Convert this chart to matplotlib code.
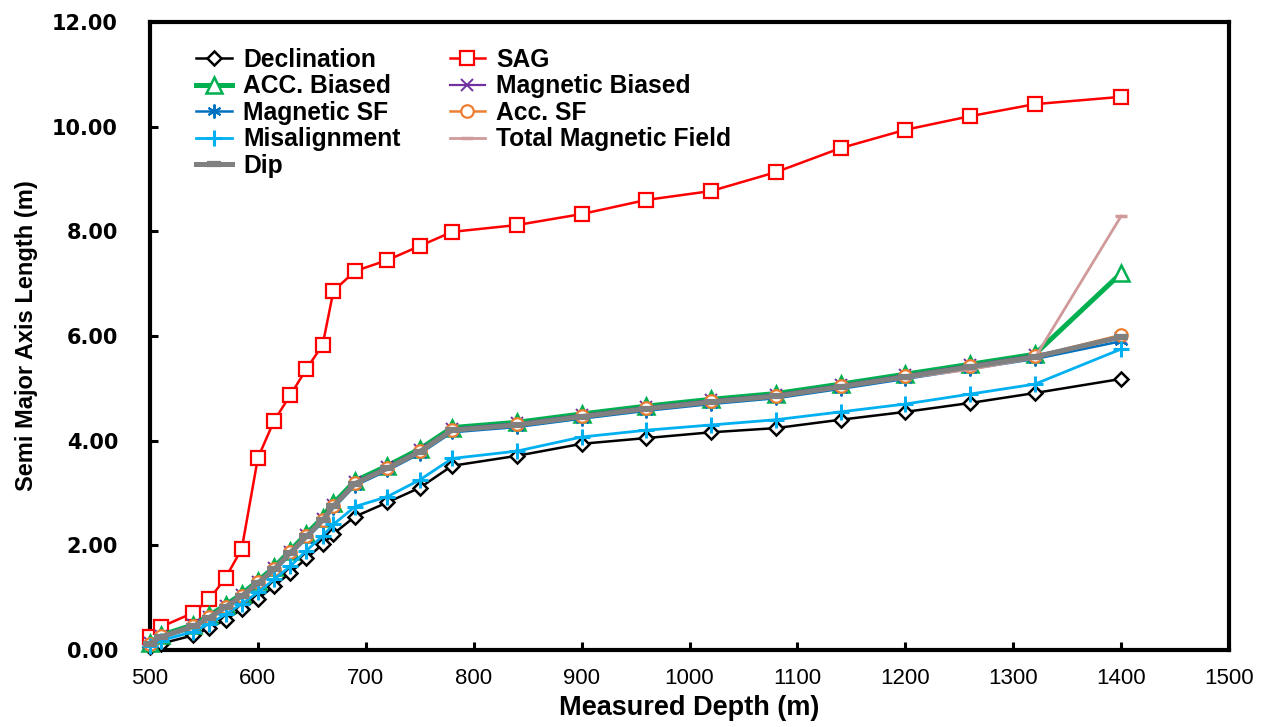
import matplotlib
matplotlib.use("Agg")
import matplotlib.pyplot as plt
from matplotlib.ticker import FormatStrFormatter, MultipleLocator

# Measured depth stations (m)
depth = [500, 510, 540, 555, 570, 585, 600, 615, 630, 645, 660, 670, 690,
         720, 750, 780, 840, 900, 960, 1020, 1080, 1140, 1200, 1260, 1320, 1400]

# Semi-major axis length (m) for each error source
declination = [0.05, 0.12, 0.28, 0.42, 0.58, 0.78, 0.98, 1.22, 1.48, 1.75, 2.02, 2.22, 2.55,
               2.82, 3.10, 3.52, 3.71, 3.94, 4.05, 4.16, 4.24, 4.40, 4.55, 4.72, 4.91, 5.18]
sag = [0.25, 0.44, 0.71, 0.97, 1.38, 1.93, 3.67, 4.38, 4.87, 5.37, 5.83, 6.86, 7.24,
       7.45, 7.72, 7.99, 8.12, 8.33, 8.60, 8.77, 9.13, 9.59, 9.94, 10.20, 10.43, 10.57]
acc_biased = [0.14, 0.28, 0.48, 0.66, 0.86, 1.07, 1.32, 1.58, 1.90, 2.22, 2.53, 2.80, 3.23,
              3.52, 3.84, 4.25, 4.35, 4.51, 4.66, 4.79, 4.90, 5.08, 5.27, 5.46, 5.65, 7.20]
mag_biased = [0.13, 0.27, 0.47, 0.64, 0.84, 1.05, 1.30, 1.56, 1.88, 2.20, 2.51, 2.78, 3.21,
              3.50, 3.82, 4.23, 4.33, 4.49, 4.64, 4.77, 4.88, 5.06, 5.25, 5.44, 5.63, 5.96]
mag_sf = [0.10, 0.23, 0.42, 0.59, 0.79, 0.99, 1.24, 1.50, 1.82, 2.13, 2.44, 2.71, 3.14,
          3.43, 3.75, 4.16, 4.26, 4.42, 4.57, 4.70, 4.81, 4.99, 5.18, 5.37, 5.56, 5.90]
acc_sf = [0.12, 0.26, 0.46, 0.63, 0.83, 1.04, 1.29, 1.55, 1.87, 2.18, 2.49, 2.76, 3.19,
          3.48, 3.80, 4.21, 4.31, 4.47, 4.62, 4.75, 4.86, 5.04, 5.23, 5.42, 5.61, 6.02]
misalignment = [0.08, 0.18, 0.35, 0.50, 0.68, 0.88, 1.10, 1.35, 1.60, 1.90, 2.18, 2.40, 2.74,
                2.93, 3.25, 3.66, 3.80, 4.07, 4.20, 4.30, 4.40, 4.55, 4.70, 4.89, 5.08, 5.75]
total_mag_field = [0.12, 0.25, 0.45, 0.62, 0.82, 1.03, 1.28, 1.54, 1.86, 2.17, 2.48, 2.75, 3.18,
                   3.47, 3.79, 4.20, 4.30, 4.46, 4.61, 4.74, 4.85, 5.03, 5.20, 5.36, 5.58, 8.29]
dip = [0.12, 0.25, 0.45, 0.62, 0.82, 1.03, 1.28, 1.54, 1.86, 2.17, 2.48, 2.75, 3.18,
       3.47, 3.79, 4.20, 4.30, 4.46, 4.61, 4.74, 4.85, 5.03, 5.22, 5.41, 5.60, 5.98]

fig = plt.figure(figsize=(12.71, 7.27), dpi=100)
ax = fig.add_axes([150 / 1271, 1 - 650 / 727, (1229 - 150) / 1271, (650 - 22) / 727])

series = [
    ("Declination", declination, dict(color="black", lw=1.8, marker="D", ms=7,
                                       mfc="white", mec="black", mew=1.8)),
    ("SAG", sag, dict(color="#FF0000", lw=1.8, marker="s", ms=10,
                      mfc="white", mec="#FF0000", mew=1.6)),
    ("ACC. Biased", acc_biased, dict(color="#00B050", lw=3.6, marker="^", ms=11,
                                     mfc="white", mec="#00B050", mew=1.8)),
    ("Magnetic Biased", mag_biased, dict(color="#7030A0", lw=1.6, marker="x", ms=8,
                                         mec="#7030A0", mew=1.4)),
    ("Magnetic SF", mag_sf, dict(color="#0070C0", lw=1.8, marker=(6, 2, 0), ms=10,
                                 mec="#0070C0", mew=1.4)),
    ("Acc. SF", acc_sf, dict(color="#ED7D31", lw=1.8, marker="o", ms=9,
                             mfc="white", mec="#ED7D31", mew=1.6)),
    ("Misalignment", misalignment, dict(color="#00B0F0", lw=2.0, marker="+", ms=11,
                                        mec="#00B0F0", mew=2.2)),
    ("Total Magnetic Field", total_mag_field, dict(color="#D09A9A", lw=2.0, marker="_",
                                                   ms=8, mec="#D09A9A", mew=2.5)),
    ("Dip", dip, dict(color="#808080", lw=3.6, marker="_", ms=10,
                      mec="#808080", mew=4.5)),
]

handles = {}
for z, (name, vals, style) in enumerate(series):
    (ln,) = ax.plot(depth, vals, label=name, zorder=3 + z, clip_on=False, **style)
    handles[name] = ln

ax.set_xlim(500, 1500)
ax.set_ylim(0, 12)
ax.xaxis.set_major_locator(MultipleLocator(100))
ax.yaxis.set_major_locator(MultipleLocator(2))
ax.yaxis.set_major_formatter(FormatStrFormatter("%.2f"))

for sp in ax.spines.values():
    sp.set_linewidth(3.0)
    sp.set_color("black")
ax.tick_params(axis="both", direction="in", length=6, width=2.2, colors="black")
ax.tick_params(axis="y", pad=23)
ax.tick_params(axis="x", pad=13)

for lab in ax.get_yticklabels():
    lab.set_fontfamily("DejaVu Sans")
    lab.set_fontweight("bold")
    lab.set_fontsize(15)
for lab in ax.get_xticklabels():
    lab.set_fontfamily("Liberation Sans")
    lab.set_fontsize(16)

ax.set_xlabel("Measured Depth (m)", family="Liberation Sans",
              fontweight="bold", fontsize=19.5, labelpad=4)
ax.set_ylabel("Semi Major Axis Length (m)", family="Liberation Sans",
              fontweight="bold", fontsize=17, labelpad=10)

# Legend laid out row by row in two columns
order = ["Declination", "ACC. Biased", "Magnetic SF", "Misalignment", "Dip",
         "SAG", "Magnetic Biased", "Acc. SF", "Total Magnetic Field"]
leg = ax.legend([handles[n] for n in order], order, ncol=2, frameon=False,
                loc="upper left", bbox_to_anchor=(0.043, 0.959), borderaxespad=0,
                borderpad=0, handlelength=1.45, handletextpad=0.45, columnspacing=2.0,
                labelspacing=0.1, prop={"family": "Liberation Sans", "weight": "bold",
                                        "size": 17.7})

fig.savefig("out.png", dpi=100, facecolor="white")
